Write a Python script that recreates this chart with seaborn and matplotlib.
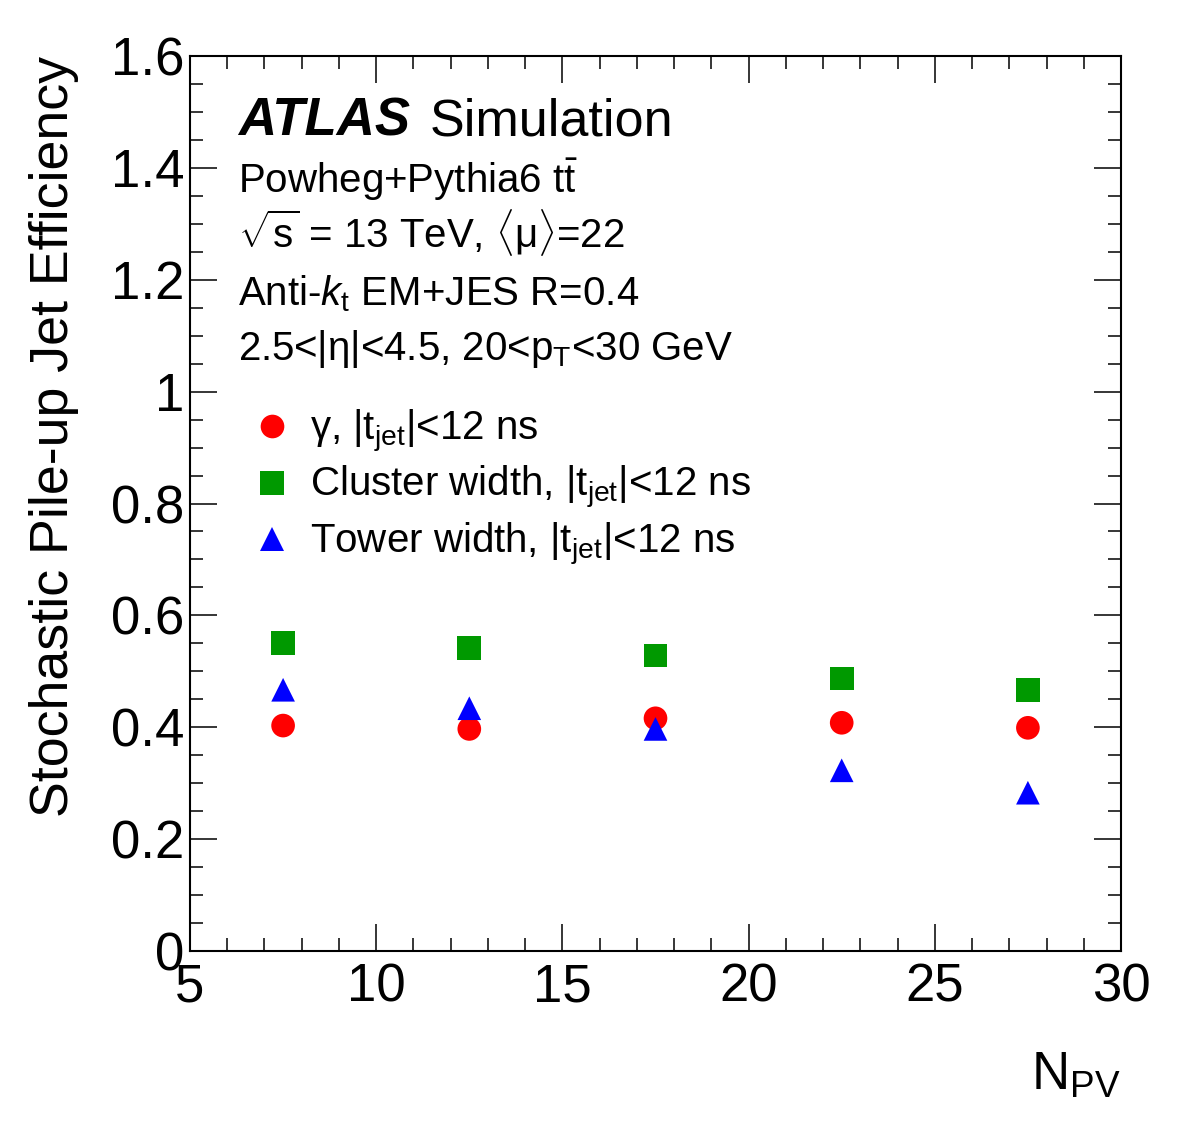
import matplotlib
matplotlib.use("Agg")
import matplotlib.pyplot as plt
import pandas as pd
import seaborn as sns
from matplotlib.ticker import MultipleLocator, FuncFormatter

# data
npv = [7.5, 12.5, 17.5, 22.5, 27.5]
eff_gamma = [0.403, 0.397, 0.416, 0.408, 0.399]
eff_cluster = [0.551, 0.542, 0.528, 0.487, 0.467]
eff_tower = [0.467, 0.434, 0.397, 0.323, 0.283]

series_labels = [
    r"$\mathrm{\gamma}$, |t$_{\mathrm{jet}}$|<12 ns",
    r"Cluster width, |t$_{\mathrm{jet}}$|<12 ns",
    r"Tower width, |t$_{\mathrm{jet}}$|<12 ns",
]
series_colors = ["#ff0000", "#009900", "#0000ff"]
series_markers = ["o", "s", "^"]

info_lines = [
    r"Powheg+Pythia6 $\mathrm{t\bar{t}}$",
    r"$\sqrt{\mathrm{s}}$ = 13 TeV, $\langle\mathrm{\mu}\rangle$=22",
    r"Anti-$k_{\mathrm{t}}$ EM+JES R=0.4",
    r"2.5<|$\mathrm{\eta}$|<4.5, 20<p$_{\mathrm{T}}$<30 GeV",
]

df = pd.DataFrame({
    "npv": npv * 3,
    "eff": eff_gamma + eff_cluster + eff_tower,
    "series": [series_labels[0]] * len(npv) + [series_labels[1]] * len(npv) + [series_labels[2]] * len(npv),
})

sns.set_theme(style="ticks")
plt.rcParams["font.family"] = ["Liberation Sans", "DejaVu Sans"]
plt.rcParams.update({
    "mathtext.fontset": "custom",
    "mathtext.rm": "Liberation Sans",
    "mathtext.it": "Liberation Sans:italic",
    "mathtext.bf": "Liberation Sans:bold",
    "text.color": "black",
    "axes.labelcolor": "black",
    "xtick.color": "black",
    "ytick.color": "black",
})

W, H = 1182, 1134
fig = plt.figure(figsize=(W / 100, H / 100), dpi=100)
ax = fig.add_axes([190 / W, 1 - 951 / H, 931 / W, 895 / H])

sns.scatterplot(
    data=df, x="npv", y="eff", hue="series", style="series",
    palette=dict(zip(series_labels, series_colors)),
    markers=dict(zip(series_labels, series_markers)),
    s=290, linewidth=0, ax=ax,
)

ax.set_xlim(5, 30)
ax.set_ylim(0, 1.6)
ax.xaxis.set_major_locator(MultipleLocator(5))
ax.xaxis.set_minor_locator(MultipleLocator(1))
ax.yaxis.set_major_locator(MultipleLocator(0.2))
ax.yaxis.set_minor_locator(MultipleLocator(0.05))
ax.yaxis.set_major_formatter(FuncFormatter(lambda v, p: f"{v:g}"))
ax.tick_params(which="both", direction="in", top=True, right=True, width=1.1, color="black")
ax.tick_params(which="major", length=19.5, labelsize=38)
ax.tick_params(which="minor", length=9.7)
ax.tick_params(axis="x", which="major", pad=8)
ax.tick_params(axis="y", which="major", pad=4)
for sp in ax.spines.values():
    sp.set_linewidth(1.5)
    sp.set_color("black")

ax.set_xlabel(r"N$_{\mathrm{PV}}$", fontsize=38, loc="right")
ax.xaxis.label.set_va("baseline")
ax.xaxis.set_label_coords(1.0, -0.155)
ax.set_ylabel("Stochastic Pile-up Jet Efficiency", fontsize=38.7, loc="top")
ax.yaxis.label.set_va("center")
ax.yaxis.set_label_coords(-0.146, 1.0)

# ATLAS label and info text
ax.text(0.0516, 0.9117, "ATLAS", transform=ax.transAxes, fontsize=38,
        fontweight="bold", fontstyle="italic", va="baseline")
ax.text(0.2578, 0.9117, "Simulation", transform=ax.transAxes, fontsize=37.5, va="baseline")
for yy, line in zip([0.8469, 0.7855, 0.7218, 0.6603], info_lines):
    ax.text(0.0516, yy, line, transform=ax.transAxes, fontsize=29, va="baseline")

handles, labels = ax.get_legend_handles_labels()
ax.legend(handles, labels, loc="upper left", bbox_to_anchor=(0.0666, 0.607),
          frameon=False, fontsize=29, handlelength=1.0, handletextpad=0.45,
          labelspacing=0.235, borderpad=0, borderaxespad=0, markerscale=1.0)

fig.savefig("out.png", dpi=100)
